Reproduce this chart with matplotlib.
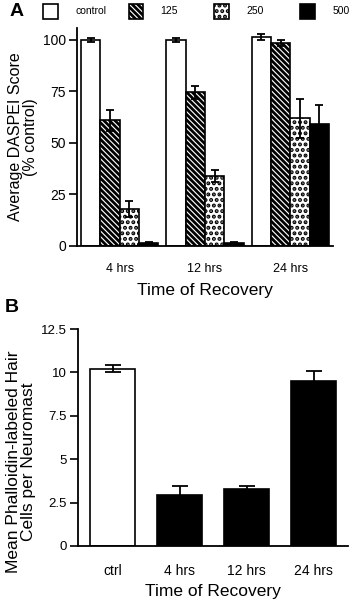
import matplotlib
matplotlib.use("Agg")
import matplotlib.pyplot as plt
from matplotlib.patches import Rectangle
import numpy as np

plt.rcParams['font.family'] = ['Liberation Sans', 'DejaVu Sans']
plt.rcParams['hatch.linewidth'] = 2.0

# ---------------- data ----------------
times_a = ["4 hrs", "12 hrs", "24 hrs"]
series_a = ["control", "125", "250", "500"]
control_vals = [100.0, 100.0, 101.5]
control_err = [0.8, 0.8, 1.4]
d125_vals = [61.0, 74.5, 98.5]
d125_err = [5.0, 3.0, 1.5]
d250_vals = [18.0, 34.0, 62.0]
d250_err = [3.8, 3.0, 9.5]
d500_vals = [1.5, 1.5, 59.0]
d500_err = [0.4, 0.4, 9.5]

cats_b = ["ctrl", "4 hrs", "12 hrs", "24 hrs"]
vals_b = [10.2, 2.95, 3.3, 9.5]
err_b = [0.2, 0.5, 0.17, 0.6]

yticks_a = [0, 25, 50, 75, 100]
yticks_b = [0, 2.5, 5, 7.5, 10, 12.5]
yticklabels_b = ["0", "2.5", "5", "7.5", "10", "12.5"]

# ---------------- figure ----------------
W, H = 353, 600
fig = plt.figure(figsize=(W / 100, H / 100), dpi=100)

def px_axes(l, t, r, b):
    return fig.add_axes([l / W, 1 - b / H, (r - l) / W, (b - t) / H])

styles = [
    dict(facecolor="white", hatch=None),
    dict(facecolor="white", hatch="\\\\\\\\\\\\"),
    dict(facecolor="white", hatch="..."),
    dict(facecolor="black", hatch=None),
]

# ---------------- panel A ----------------
axA = px_axes(77, 28, 333, 246)
vals_list = [control_vals, d125_vals, d250_vals, d500_vals]
errs_list = [control_err, d125_err, d250_err, d500_err]
x = np.arange(len(times_a))
bw = 0.226
for i, (v, e) in enumerate(zip(vals_list, errs_list)):
    xs = x + (i - 1.5) * bw
    axA.bar(xs, v, width=bw, edgecolor="black", linewidth=1.2,
            label=series_a[i], zorder=2, **styles[i])
    axA.errorbar(xs, v, yerr=e, fmt="none", ecolor="black", elinewidth=1.3,
                 capsize=3.2, capthick=1.3, zorder=3)

axA.set_xlim(-0.5, 2.5)
axA.set_ylim(0, 105.8)
axA.set_yticks(yticks_a)
axA.set_xticks(x)
axA.set_xticklabels(times_a, fontsize=9)
axA.tick_params(axis="x", length=0, pad=12)
axA.tick_params(axis="y", length=6, width=1.2, pad=2, labelsize=10)
for s in ["top", "right"]:
    axA.spines[s].set_visible(False)
for s in ["left", "bottom"]:
    axA.spines[s].set_linewidth(1.3)
axA.set_ylabel("Average DASPEI Score\n(% control)", fontsize=11.5,
               linespacing=1.0, va="center")
axA.yaxis.set_label_coords(-0.21, 0.5)
axA.set_xlabel("Time of Recovery", fontsize=12.5, labelpad=6)

# legend (manual, evenly spaced like reference)
for i, name in enumerate(series_a):
    lx = 43 + i * 85.7
    r = Rectangle((lx / W, 1 - 18.5 / H), 14.5 / W, 14.5 / H,
                  transform=fig.transFigure, edgecolor="black", linewidth=1.2,
                  **styles[i])
    fig.add_artist(r)
    fig.text((lx + 32) / W, 1 - 11.5 / H, name, fontsize=7.5,
             ha="left", va="center")

fig.text(10 / W, 1 - 12 / H, "A", fontsize=14, fontweight="bold",
         ha="left", va="center")

# ---------------- panel B ----------------
axB = px_axes(77.7, 329, 348, 546)
xb = np.arange(len(cats_b))
colors_b = ["white", "black", "black", "black"]
axB.bar(xb, vals_b, width=0.67, color=colors_b, edgecolor="black",
        linewidth=1.2, zorder=2)
axB.errorbar(xb, vals_b, yerr=err_b, fmt="none", ecolor="black",
             elinewidth=1.3, capsize=6, capthick=1.3, zorder=3)
axB.set_xlim(-0.52, 3.51)
axB.set_ylim(0, 12.5)
axB.set_yticks(yticks_b)
axB.set_yticklabels(yticklabels_b)
axB.set_xticks(xb)
axB.set_xticklabels(cats_b, fontsize=10)
axB.tick_params(axis="x", length=0, pad=13)
axB.tick_params(axis="y", length=6, width=1.2, pad=2, labelsize=9.5)
for s in ["top", "right"]:
    axB.spines[s].set_visible(False)
for s in ["left", "bottom"]:
    axB.spines[s].set_linewidth(1.3)
axB.set_ylabel("Mean Phalloidin-labeled Hair\nCells per Neuromast",
               fontsize=12.5, linespacing=0.95, va="center")
axB.yaxis.set_label_coords(-0.21, 0.387)
axB.set_xlabel("Time of Recovery", fontsize=12.5, labelpad=4)

fig.text(5 / W, 1 - 307 / H, "B", fontsize=14, fontweight="bold",
         ha="left", va="center")

fig.savefig("out.png", dpi=100)
